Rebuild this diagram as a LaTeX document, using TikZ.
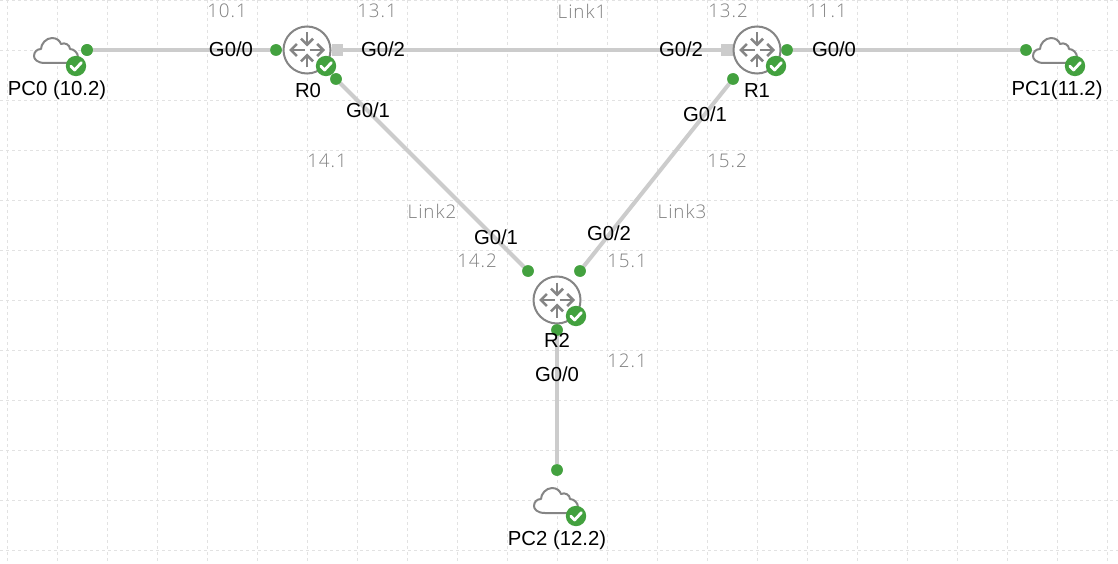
\documentclass[tikz,border=0pt]{standalone}
\usepackage{fontspec}
\usetikzlibrary{arrows.meta}
\setmainfont{Liberation Sans}
\newfontfamily\thinfont[LetterSpace=5]{Open Sans Light}
\definecolor{gridc}{HTML}{E2E2E2}
\definecolor{linkc}{HTML}{CCCCCC}
\definecolor{okc}{HTML}{43A13F}
\definecolor{iconc}{HTML}{858585}
\definecolor{labc}{HTML}{808080}
\tikzset{
  x=1pt,y=-1pt,
  gridline/.style={gridc,line width=0.8pt,dash pattern=on 3pt off 3pt},
  link/.style={linkc,line width=4pt},
  dotport/.style={circle,fill=okc,inner sep=0,minimum size=11.5pt},
  sqport/.style={rectangle,fill=linkc,inner sep=0,minimum size=11.5pt},
  lab/.style={font=\fontsize{20.3}{22}\selectfont,text=black,inner sep=0},
  thin lab/.style={font=\fontsize{18.8}{22}\thinfont,text=labc,inner sep=0},
  routerc/.style={circle,draw=iconc,line width=2pt,fill=white,inner sep=0,minimum size=47pt},
  iconarrow/.style={iconc,line width=2.6pt,-{Straight Barb[length=6pt,width=12pt,line width=2.6pt]}},
}
\newcommand{\badge}[2]{%
  \fill[okc] (#1,#2) circle (10.2pt);
  \draw[white,line width=2.8pt,line cap=round,line join=round] (#1-5.2,#2+0.2) -- (#1-1.4,#2+4) -- (#1+5.4,#2-3.4);
}
\newcommand{\routericon}[3]{%
  \node[routerc] (#3) at (#1,#2) {};
  \draw[iconarrow] (#1,#2-17.5) -- (#1,#2-3.5);
  \draw[iconarrow] (#1,#2+17.5) -- (#1,#2+3.5);
  \draw[iconarrow] (#1-2.5,#2) -- (#1-18,#2);
  \draw[iconarrow] (#1+2.5,#2) -- (#1+18,#2);
  \badge{#1+19}{#2+16}
}
\newcommand{\cloudicon}[2]{%
  \draw[iconc,line width=2pt,line join=round,fill=white]
    (#1-9,#2+13) .. controls (#1-17,#2+13) and (#1-20,#2+9) .. (#1-20,#2+6)
    .. controls (#1-20,#2+2) and (#1-17,#2-1) .. (#1-13,#2-1)
    .. controls (#1-13,#2-6) and (#1-8,#2-12) .. (#1-2,#2-12)
    .. controls (#1+3,#2-12) and (#1+6,#2-9) .. (#1+7,#2-6)
    .. controls (#1+11,#2-8) and (#1+16,#2-5) .. (#1+16,#2-1)
    .. controls (#1+20,#2-1) and (#1+24,#2+3) .. (#1+24,#2+7)
    .. controls (#1+24,#2+11) and (#1+20,#2+13) .. (#1+18,#2+13) -- cycle;
  \badge{#1+22}{#2+16}
}
\begin{document}
\begin{tikzpicture}
\useasboundingbox (0,0) rectangle (1118,564);
\fill[white] (0,0) rectangle (1118,564);
\foreach \gx in {7,57,...,1107} \draw[gridline] (\gx,0) -- (\gx,564);
\foreach \gy in {0,50,...,550} \draw[gridline] (0,\gy) -- (1118,\gy);

\node[dotport] (p0) at (87,50) {};
\node[dotport] (r0a) at (276,50) {};
\node[sqport] (r0c) at (337.5,50) {};
\node[sqport] (r1c) at (727,50) {};
\node[dotport] (r1a) at (787,50) {};
\node[dotport] (p1) at (1026,50) {};
\node[dotport] (r0b) at (336,79) {};
\node[dotport] (r1b) at (733,79) {};
\node[dotport] (r2b) at (528,271) {};
\node[dotport] (r2c) at (580,271) {};
\node[dotport] (r2a) at (557,330) {};
\node[dotport] (p2) at (557,470) {};

\draw[link] (p0) -- (r0a);
\draw[link] (r0c) -- (r1c);
\draw[link] (r1a) -- (p1);
\draw[link] (r0b) -- (r2b);
\draw[link] (r1b) -- (r2c);
\draw[link] (r2a) -- (p2);
\node[dotport] at (p0) {};
\node[dotport] at (r0a) {};
\node[dotport] at (r1a) {};
\node[dotport] at (p1) {};
\node[dotport] at (r0b) {};
\node[dotport] at (r1b) {};
\node[dotport] at (r2b) {};
\node[dotport] at (r2c) {};
\node[dotport] at (p2) {};

\cloudicon{54}{50}
\cloudicon{1053}{50}
\cloudicon{554}{500}
\node[dotport] at (p0) {};
\routericon{307}{50}{R0i}
\routericon{757}{50}{R1i}
\routericon{557}{300}{R2i}
\node[dotport] at (r2a) {};

\node[lab] (l0) at (57,90.5) {PC0 (10.2)};
\node[lab] (l1) at (1057,90.5) {PC1(11.2)};
\node[lab] (l2) at (557,540.5) {PC2 (12.2)};
\node[lab] (l3) at (308,90.5) {R0};
\node[lab] (l4) at (757,90.5) {R1};
\node[lab] (l5) at (557,340.5) {R2};
\node[lab] (g1) at (231,49.5) {G0/0};
\node[lab] (g2) at (383,49.5) {G0/2};
\node[lab] (g3) at (681,49.5) {G0/2};
\node[lab] (g4) at (834,49.5) {G0/0};
\node[lab] (g5) at (368,110.5) {G0/1};
\node[lab] (g6) at (705,114.5) {G0/1};
\node[lab] (g7) at (496,237.5) {G0/1};
\node[lab] (g8) at (609,233.5) {G0/2};
\node[lab] (g9) at (557,374.5) {G0/0};

\node[thin lab] (t1) at (227,11) {10.1};
\node[thin lab] (t2) at (377,11) {13.1};
\node[thin lab] (t3) at (582,11) {Link1};
\node[thin lab] (t4) at (728,11) {13.2};
\node[thin lab] (t5) at (827,11) {11.1};
\node[thin lab] (t6) at (327,161) {14.1};
\node[thin lab] (t7) at (432,211) {Link2};
\node[thin lab] (t8) at (682,211) {Link3};
\node[thin lab] (t9) at (727,161) {15.2};
\node[thin lab] (t10) at (477,261) {14.2};
\node[thin lab] (t11) at (627,261) {15.1};
\node[thin lab] (t12) at (627,361) {12.1};
\end{tikzpicture}
\end{document}
